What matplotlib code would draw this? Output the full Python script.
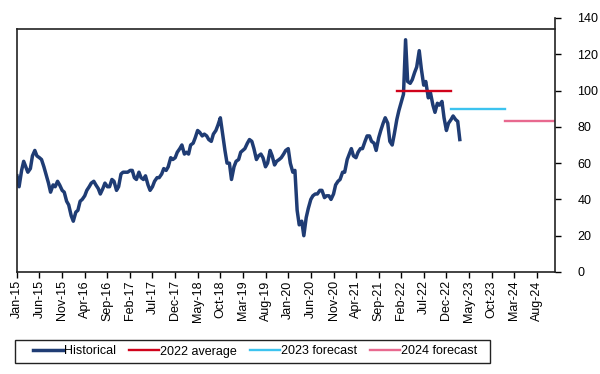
import pandas as pd
import numpy as np
import matplotlib.pyplot as plt
import matplotlib.dates as mdates
from matplotlib.patches import Rectangle

plt.rcParams["font.family"] = ["Liberation Sans", "DejaVu Sans"]

# Brent, two points per month (1st and 15th)
hist_2015 = [53, 47, 56, 61, 58, 55, 57, 64, 67, 64, 63, 62, 58, 54, 49, 44, 48, 47, 50, 48, 45, 44, 39, 37]
hist_2016 = [31, 28, 33, 34, 39, 40, 42, 45, 47, 49, 50, 48, 46, 43, 46, 49, 47, 47, 51, 50, 45, 47, 54, 55]
hist_2017 = [55, 55, 56, 56, 52, 51, 55, 52, 51, 53, 48, 45, 47, 50, 52, 52, 54, 57, 56, 58, 63, 62, 63, 66]
hist_2018 = [68, 70, 65, 66, 65, 70, 71, 74, 78, 77, 75, 76, 75, 73, 72, 76, 78, 81, 85, 77, 67, 60, 60, 51]
hist_2019 = [58, 61, 62, 66, 67, 68, 71, 73, 72, 68, 62, 64, 65, 63, 58, 60, 67, 64, 59, 61, 62, 63, 65, 67]
hist_2020 = [68, 60, 55, 56, 34, 26, 28, 20, 30, 35, 40, 42, 43, 43, 45, 45, 41, 42, 42, 40, 43, 48, 50, 51]
hist_2021 = [55, 55, 62, 65, 68, 64, 63, 66, 68, 68, 72, 75, 75, 72, 71, 67, 74, 78, 82, 85, 82, 72, 70, 76]
hist_2022 = [84, 89, 94, 98, 128, 105, 104, 106, 110, 113, 122, 112, 103, 105, 96, 99, 92, 88, 93, 92, 94, 85, 78, 82]
hist_2023 = [84, 86, 84, 83, 73]

avg_2022 = 100
fc_2023 = 90
fc_2024 = 83

hist = hist_2015 + hist_2016 + hist_2017 + hist_2018 + hist_2019 + hist_2020 + hist_2021 + hist_2022 + hist_2023
dates = pd.date_range("2015-01-01", periods=len(hist), freq="SMS")

navy = "#1f3c74"
red = "#d0021b"
blue = "#3cc3ef"
pink = "#e8698f"

fig = plt.figure(figsize=(6, 3.74), dpi=100)
ax = fig.add_axes([17 / 600, 1 - 272 / 374, 538 / 600, 254 / 374])

ax.plot(dates, hist, color=navy, lw=2.5, label="Historical")
ax.plot([pd.Timestamp("2022-01-01"), pd.Timestamp("2023-01-01")], [avg_2022, avg_2022], color=red, lw=1.7, label="2022 average")
ax.plot([pd.Timestamp("2023-01-01"), pd.Timestamp("2024-01-01")], [fc_2023, fc_2023], color=blue, lw=1.7, label="2023 forecast")
ax.plot([pd.Timestamp("2024-01-01"), pd.Timestamp("2025-01-01")], [fc_2024, fc_2024], color=pink, lw=1.7, label="2024 forecast")

ax.set_xlim(pd.Timestamp("2015-01-01"), pd.Timestamp("2024-12-01"))
ax.set_ylim(0, 140)

ticks = pd.date_range("2015-01-01", "2024-08-01", freq="5MS")
ax.set_xticks(ticks)
ax.xaxis.set_major_formatter(mdates.DateFormatter("%b-%y"))
ax.tick_params(axis="x", rotation=90, labelsize=9, length=4, width=1, direction="out", pad=2)

ax.yaxis.tick_right()
ax.set_yticks(np.arange(0, 141, 20))
ax.tick_params(axis="y", labelsize=9, length=4, width=1, direction="out", pad=12)

for s in ["left", "bottom", "right", "top"]:
    ax.spines[s].set_color("#222222")
    ax.spines[s].set_linewidth(1.2)
ax.spines["top"].set_position(("data", 134))
ax.spines["left"].set_bounds(0, 134)

# legend box drawn separately so the entries can sit inset from its edges
fig.patches.append(Rectangle((15 / 600, 11 / 374), 475 / 600, 23 / 374, transform=fig.transFigure,
                             fill=False, edgecolor="#222222", lw=1.0))
fig.legend(loc="center", bbox_to_anchor=(33 / 600, 11 / 374, 444 / 600, 23 / 374),
           mode="expand", ncol=4, fontsize=9, frameon=False, borderaxespad=0,
           borderpad=0, handlelength=2.4, handletextpad=0.1)

fig.savefig("out.png", dpi=100)
